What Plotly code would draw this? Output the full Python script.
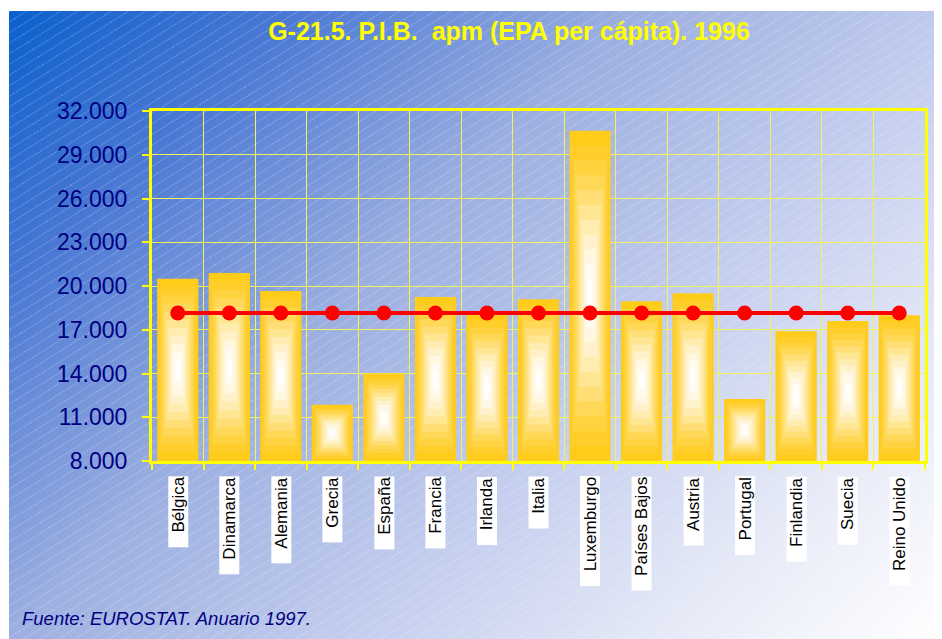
import base64
import plotly.graph_objects as go

# ---- data ----
paises = ["Bélgica", "Dinamarca", "Alemania", "Grecia", "España", "Francia",
          "Irlanda", "Italia", "Luxemburgo", "Países Bajos", "Austria",
          "Portugal", "Finlandia", "Suecia", "Reino Unido"]
pib_pc = [20500, 20900, 19650, 11850, 14000, 19250, 18050, 19100, 30650,
          18950, 19500, 12250, 16900, 17600, 18000]
media_ue = [18150] * 15
y_ticks = [8000, 11000, 14000, 17000, 20000, 23000, 26000, 29000, 32000]
y_ticktext = ["8.000", "11.000", "14.000", "17.000", "20.000", "23.000",
              "26.000", "29.000", "32.000"]

Y0 = 8000
Y1 = 32000

# ---- layout geometry (page coords minus the 8px body margin) ----
OFF = 8
W, H = 942 - OFF, 639 - OFF
L, T = 152 - OFF, 111 - OFF
R = W - (925 - OFF)
B = H - (461 - OFF)
PW, PH = W - L - R, H - T - B

# background gradient with fine diagonal hatch
bx, by = 9 - OFF, 11 - OFF
bgw, bgh = W - bx, H - by
svg = f"""<svg xmlns='http://www.w3.org/2000/svg' width='{bgw}' height='{bgh}' viewBox='0 0 {bgw} {bgh}' preserveAspectRatio='none'>
<defs>
<linearGradient id='g' x1='0' y1='0' x2='{(bgw+bgh)//2}' y2='{(bgw+bgh)//2}' gradientUnits='userSpaceOnUse'>
<stop offset='0' stop-color='#0a60cc'/>
<stop offset='0.18' stop-color='#4a78d4'/>
<stop offset='0.40' stop-color='#9cafe0'/>
<stop offset='0.62' stop-color='#c3cdee'/>
<stop offset='0.82' stop-color='#e6eaf7'/>
<stop offset='1' stop-color='#ffffff'/>
</linearGradient>
<pattern id='p' width='40' height='9' patternUnits='userSpaceOnUse' patternTransform='rotate(-32)'>
<line x1='0' y1='0.5' x2='40' y2='0.5' stroke='white' stroke-opacity='0.35' stroke-width='0.8' stroke-dasharray='2,1.2'/>
</pattern>
</defs>
<rect width='100%' height='100%' fill='url(#g)'/>
<rect width='100%' height='100%' fill='url(#p)'/>
</svg>"""
src = "data:image/svg+xml;base64," + base64.b64encode(svg.encode()).decode()

fig = go.Figure()

# bars with rectangular "from center" gradient: stacked, shrinking layers
layer_colors = ["#FFCC1A", "#FFCE2A", "#FFD23F", "#FFD858", "#FFDF75",
                "#FFE693", "#FFECB0", "#FFF2CA", "#FFF7E0", "#FFFBF1", "#FFFFFF"]
n = len(layer_colors)
bar_w = 0.8
for k, col in enumerate(layer_colors):
    f = 1 - k * 0.9 / (n - 1)
    centers = [(Y0 + v) / 2 for v in pib_pc]
    halfs = [(v - Y0) / 2 * f for v in pib_pc]
    fig.add_trace(go.Bar(
        x=paises, y=[2 * h for h in halfs], base=[c - h for c, h in zip(centers, halfs)],
        width=bar_w * f, marker=dict(color=col, line=dict(width=0)),
        showlegend=False, hoverinfo="skip"))

fig.add_trace(go.Scatter(
    x=paises, y=media_ue, mode="lines+markers",
    line=dict(color="#FF0000", width=4),
    marker=dict(color="#FF0000", size=15),
    showlegend=False))

ann = []
for p in paises:
    ann.append(dict(x=p, xref="x", y=0, yref="paper", yshift=-15,
                    xanchor="center", yanchor="top", textangle=-90,
                    text="\u00a0\u00a0\u00a0" + p, showarrow=False, bgcolor="white",
                    borderpad=0,
                    font=dict(family="Liberation Sans, Arial", size=17, color="black")))
ann.append(dict(x=(20 - OFF - L) / PW, xref="paper", y=1 - (618 - OFF - T) / PH, yref="paper",
                xanchor="left", yanchor="middle", showarrow=False,
                text="<i>Fuente: EUROSTAT. Anuario 1997.</i>",
                font=dict(family="Liberation Sans, Arial", size=18.5, color="#000080")))

fig.update_layout(
    width=W, height=H,
    margin=dict(l=L, r=R, t=T, b=B),
    paper_bgcolor="white", plot_bgcolor="rgba(0,0,0,0)",
    barmode="overlay",
    title=dict(text="<b>G-21.5. P.I.B.  apm (EPA per cápita). 1996</b>",
               x=(509 - OFF) / W, xanchor="center", y=1 - (31 - OFF) / H, yanchor="middle",
               font=dict(family="Liberation Sans, Arial", size=25, color="#FFFF00")),
    images=[dict(source=src, xref="paper", yref="paper",
                 x=(bx - L) / PW, y=1 + (T - by) / PH,
                 sizex=bgw / PW, sizey=bgh / PH, xanchor="left", yanchor="top",
                 sizing="stretch", layer="below")],
    annotations=ann,
)

fig.update_xaxes(
    type="category", showticklabels=False, tickson="boundaries",
    ticks="outside", ticklen=6, tickcolor="#FFFF00", tickwidth=2,
    showgrid=True, gridcolor="#F2F25A", gridwidth=1,
    showline=True, linecolor="#FFFF00", linewidth=3, mirror=True,
    range=[-0.5, 14.5], fixedrange=True)

fig.update_yaxes(
    range=[Y0, Y1], tickvals=y_ticks, ticktext=y_ticktext,
    ticks="outside", ticklen=7, tickcolor="#FFFF00", tickwidth=2,
    ticklabelstandoff=10,
    tickfont=dict(family="Liberation Sans, Arial", size=23, color="#000080"),
    showgrid=True, gridcolor="#F2F25A", gridwidth=1,
    showline=True, linecolor="#FFFF00", linewidth=3, mirror=True,
    zeroline=False, fixedrange=True)

fig.write_html("out.html")
